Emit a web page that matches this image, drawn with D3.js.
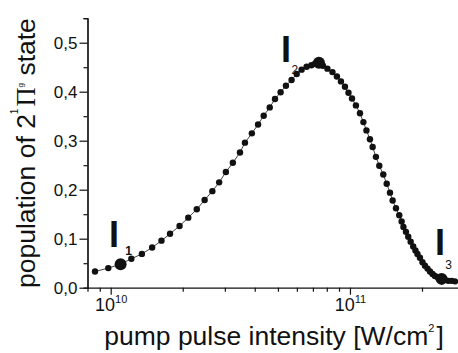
<!DOCTYPE html>
<html>
<head>
<meta charset="utf-8">
<script src="https://cdn.jsdelivr.net/npm/d3@7"></script>
<style>
  body { margin: 0; background: #fff; }
  text { font-family: "Liberation Sans", Arial, sans-serif; fill: #111; }
  .domain { stroke: #111; stroke-width: 1.2; }
  .tick line { stroke: #111; stroke-width: 1.2; }
  .linepath { fill: none; stroke: #444; stroke-width: 1; }
  .dot { fill: #111; }
</style>
</head>
<body>
<div class="container"></div>
<script>
const WIDTH = 458;
const HEIGHT = 353;

// pump pulse intensity [W/cm^2]
var intensity = [8.60e9, 9.77e9, 1.10e10, 1.22e10, 1.35e10, 1.49e10, 1.63e10, 1.77e10, 1.94e10, 2.11e10,
    2.29e10, 2.47e10, 2.66e10, 2.84e10, 3.03e10, 3.24e10, 3.47e10, 3.64e10, 3.89e10, 4.13e10,
    4.36e10, 4.62e10, 4.86e10, 5.13e10, 5.40e10, 5.70e10, 5.99e10, 6.28e10, 6.59e10, 6.90e10,
    7.14e10, 7.42e10, 7.71e10, 8.05e10, 8.45e10, 8.82e10, 9.17e10, 9.53e10, 9.86e10, 1.020e11,
    1.059e11, 1.101e11, 1.138e11, 1.172e11, 1.212e11, 1.244e11, 1.284e11, 1.326e11, 1.378e11, 1.424e11,
    1.470e11, 1.508e11, 1.557e11, 1.607e11, 1.644e11, 1.673e11, 1.714e11, 1.752e11, 1.793e11, 1.838e11,
    1.878e11, 1.914e11, 1.961e11, 2.009e11, 2.058e11, 2.109e11, 2.160e11, 2.213e11, 2.266e11, 2.332e11,
    2.416e11, 2.495e11, 2.575e11, 2.661e11, 2.747e11];

// population of the 2 1Pi_g state
var population = [0.033, 0.040, 0.048, 0.059, 0.069, 0.082, 0.096, 0.110, 0.126, 0.143,
    0.160, 0.179, 0.197, 0.215, 0.236, 0.255, 0.276, 0.296, 0.315, 0.333,
    0.351, 0.368, 0.385, 0.399, 0.412, 0.424, 0.436, 0.445, 0.451, 0.454,
    0.457, 0.459, 0.453, 0.447, 0.440, 0.431, 0.421, 0.410, 0.398, 0.386,
    0.372, 0.356, 0.338, 0.321, 0.303, 0.287, 0.267, 0.249, 0.231, 0.212,
    0.194, 0.178, 0.162, 0.148, 0.135, 0.124, 0.114, 0.104, 0.094, 0.084,
    0.076, 0.069, 0.061, 0.052, 0.045, 0.039, 0.033, 0.028, 0.024, 0.021,
    0.018, 0.016, 0.014, 0.014, 0.013];

// the three marked intensities I1, I2, I3
var markIntensity = [1.10e10, 7.42e10, 2.416e11];
var markPopulation = [0.048, 0.459, 0.018];
var markNames = ["1", "2", "3"];

var yMajorTicks = [0, 0.1, 0.2, 0.3, 0.4, 0.5];
var yMinorTicks = [0.05, 0.15, 0.25, 0.35, 0.45, 0.55];
var xMajorTicks = [1e10, 1e11];
var xMinorTicks = [8e9, 9e9, 2e10, 3e10, 4e10, 5e10, 6e10, 7e10, 8e10, 9e10, 2e11];
var xTickExponents = ["10", "11"];

var xScale = d3.scaleLog()
    .domain([8e9, 2.85e11])
    .range([87.5, 458.8]);

var yScale = d3.scaleLinear()
    .domain([0, 0.55])
    .range([287.7, 18.2]);

var translate = function(x, y){
    return "translate(" + x + "," + y + ")";
};

var yFormat = function(d){
    return d3.format(".1f")(d).replace(".", ",");
};

var drawAxes = function(svg){
    var x0 = xScale.range()[0];
    var y0 = yScale.range()[0];

    // y axis
    svg.append('g')
        .attr('transform', translate(x0, 0))
        .call(d3.axisLeft(yScale).tickValues(yMinorTicks).tickSize(4).tickFormat(''))
        .selectAll('.tick text').remove();
    var yAxis = svg.append('g')
        .attr('transform', translate(x0, 0))
        .call(d3.axisLeft(yScale).tickValues(yMajorTicks).tickSize(8).tickSizeOuter(0).tickPadding(2).tickFormat(yFormat));
    yAxis.selectAll('.tick text')
        .style('font-size', '17px')
        .attr('dy', '0.36em');

    // x axis
    svg.append('g')
        .attr('transform', translate(0, y0))
        .call(d3.axisBottom(xScale).tickValues(xMinorTicks).tickSize(4).tickSizeOuter(0).tickFormat(''));
    var xAxis = svg.append('g')
        .attr('transform', translate(0, y0))
        .call(d3.axisBottom(xScale).tickValues(xMajorTicks).tickSize(7).tickSizeOuter(0).tickFormat(''));
    xAxis.select('.domain').remove();

    xAxis.selectAll('.tick').each(function(d, i){
        var t = d3.select(this).append('text')
            .attr('x', 0)
            .attr('y', 23)
            .attr('text-anchor', 'middle')
            .style('font-size', '18px');
        t.append('tspan').text('10');
        t.append('tspan')
            .attr('dy', '-8')
            .style('font-size', '11px')
            .text(xTickExponents[i]);
    });
};

var drawTitles = function(svg){
    var xt = svg.append('text')
        .attr('x', 274)
        .attr('y', 345)
        .attr('text-anchor', 'middle')
        .style('font-size', '26.5px');
    xt.append('tspan').text('pump pulse intensity [W/cm');
    xt.append('tspan').attr('dy', -13).style('font-size', '11px').text('2');
    xt.append('tspan').attr('dy', 13).attr('dx', 2).text(']');

    var yt = svg.append('text')
        .attr('transform', translate(35, 288) + ' rotate(-90)')
        .attr('text-anchor', 'start')
        .style('font-size', '26.5px');
    yt.append('tspan').text('population of 2');
    yt.append('tspan').attr('dy', -17).style('font-size', '10px').text('1');
    yt.append('tspan').attr('dy', 17).attr('dx', 2)
        .style('font-family', '"Liberation Serif", "DejaVu Serif", serif')
        .text('\u03A0');
    yt.append('tspan').attr('dy', -12).style('font-size', '8px').text('g');
    yt.append('tspan').attr('dy', 12).text('  state');
};

var drawData = function(svg){
    var points = intensity.map(function(d, i){ return {x: d, y: population[i]}; });

    var line = d3.line()
        .x(function(d){ return xScale(d.x); })
        .y(function(d){ return yScale(d.y); });

    svg.append('path')
        .datum(points)
        .attr('d', line)
        .classed('linepath', true);

    svg.append('g').selectAll('circle')
        .data(points)
        .enter()
        .append('circle')
        .classed('dot', true)
        .attr('r', 3.2)
        .attr('cx', function(d){ return xScale(d.x); })
        .attr('cy', function(d){ return yScale(d.y); });

    var marks = markIntensity.map(function(d, i){
        return {x: d, y: markPopulation[i], name: markNames[i]};
    });
    // label offsets from each marked point: bar x, bar baseline, index x, index baseline
    var offsets = [[-6.5, -17, 8, -9], [-33, -1, -24, 11], [-1.7, -24, 7, -10]];

    svg.append('g').selectAll('circle')
        .data(marks)
        .enter()
        .append('circle')
        .classed('dot', true)
        .attr('r', 6)
        .attr('cx', function(d){ return xScale(d.x); })
        .attr('cy', function(d){ return yScale(d.y); });

    marks.forEach(function(d, i){
        var cx = xScale(d.x), cy = yScale(d.y), o = offsets[i];
        svg.append('text')
            .attr('x', cx + o[0])
            .attr('y', cy + o[1])
            .attr('text-anchor', 'middle')
            .style('font-size', '36px')
            .style('font-weight', 'bold')
            .text('I');
        svg.append('text')
            .attr('x', cx + o[2])
            .attr('y', cy + o[3])
            .attr('text-anchor', 'middle')
            .style('font-size', '12px')
            .style('font-weight', i === 0 ? 'bold' : 'normal')
            .text(d.name);
    });
};

var loadChart = function(){
    var svg = d3.select('.container').append('svg')
        .attr('width', WIDTH)
        .attr('height', HEIGHT);

    drawAxes(svg);
    drawData(svg);
    drawTitles(svg);
};

window.onload = loadChart;
</script>
</body>
</html>
